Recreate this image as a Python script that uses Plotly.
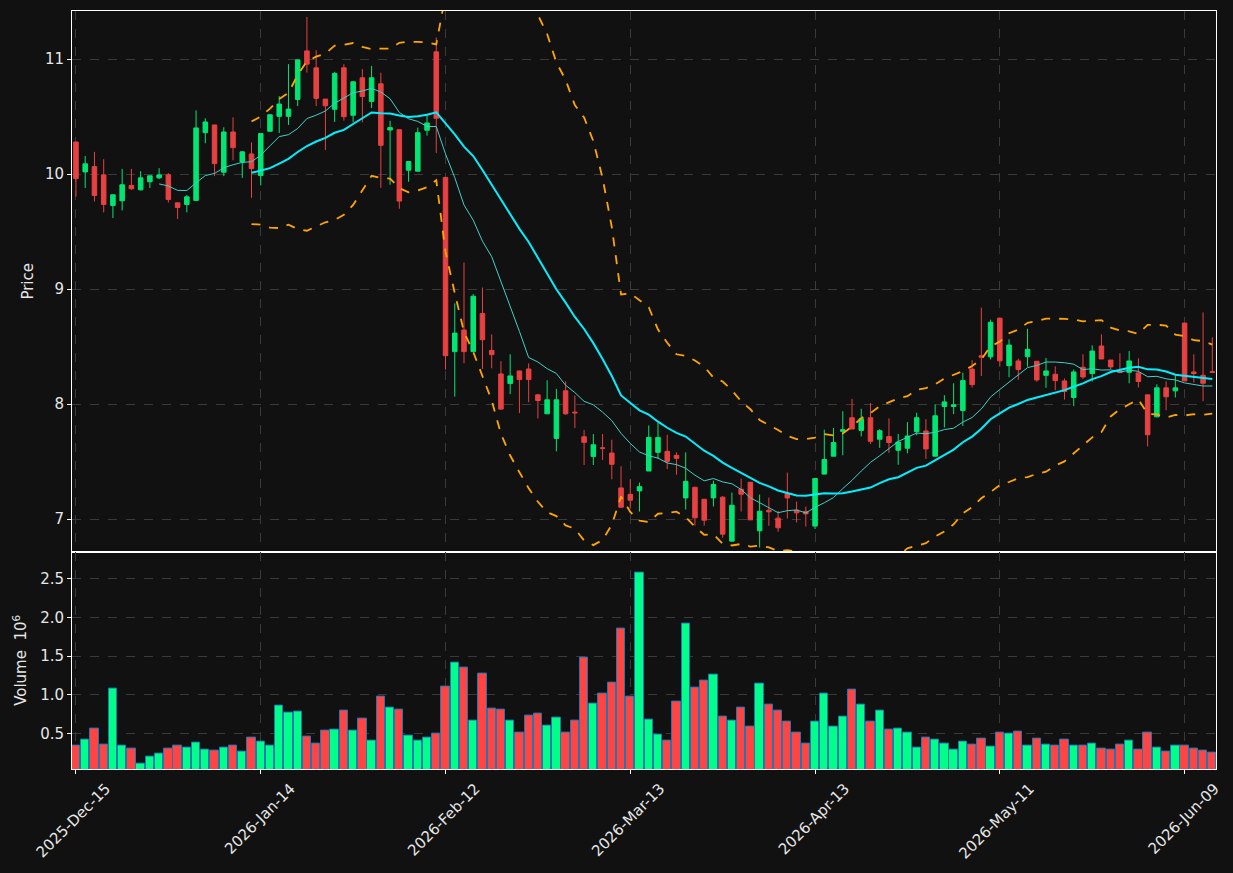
import numpy as np
import pandas as pd
import plotly.graph_objects as go
from plotly.subplots import make_subplots

# ---------------- data ----------------
opens = [10.28, 10.02, 10.066, 9.994, 9.728, 9.769, 9.902, 9.864, 9.934, 9.968,
         9.994, 9.751, 9.737, 9.772, 10.361, 10.428, 10.017, 10.367, 10.107, 10.176,
         9.988, 10.373, 10.503, 10.503, 10.65, 11.072, 10.925, 10.653, 10.564, 10.925,
         10.512, 10.838, 10.633, 10.786, 10.384, 10.387, 10.035, 10.026, 10.382, 11.064,
         9.972, 8.457, 8.645, 8.457, 8.789, 8.468, 8.263, 8.179, 8.289, 8.306,
         8.081, 7.916, 7.702, 8.116, 7.931, 7.717, 7.546, 7.62, 7.575, 7.272,
         7.216, 7.246, 7.419, 7.581, 7.59, 7.555, 7.185, 7.277, 7.173, 7.185,
         7.191, 6.809, 7.26, 7.321, 6.899, 7.078, 7.009, 7.223, 7.078, 7.066,
         6.94, 7.392, 7.548, 7.764, 7.882, 7.772, 7.882, 7.695, 7.718, 7.599,
         7.617, 7.761, 7.767, 7.548, 7.98, 7.98, 7.945, 8.305, 8.421, 8.412,
         8.748, 8.335, 8.376, 8.413, 8.373, 8.251, 8.26, 8.202, 8.058, 8.321,
         8.266, 8.506, 8.384, 8.289, 8.277, 8.272, 8.081, 7.89, 8.142, 8.116,
         8.705, 8.28, 8.251, 8.283]
highs = [10.28, 10.159, 10.194, 10.13, 9.821, 10.046, 10.046, 10.026, 9.986, 10.052,
         10.009, 9.751, 9.82, 10.555, 10.486, 10.428, 10.408, 10.494, 10.202, 10.277,
         10.353, 10.52, 10.679, 10.957, 10.994, 11.367, 11.078, 10.653, 10.89, 10.957,
         10.812, 10.913, 10.942, 10.882, 10.465, 10.387, 10.11, 10.405, 10.523, 11.188,
         9.974, 8.876, 9.231, 8.957, 9.014, 8.607, 8.373, 8.434, 8.289, 8.355,
         8.09, 8.208, 8.133, 8.199, 8.075, 7.775, 7.74, 7.74, 7.691, 7.46,
         7.347, 7.318, 7.815, 7.838, 7.734, 7.581, 7.581, 7.283, 7.173, 7.335,
         7.202, 7.231, 7.353, 7.321, 7.214, 7.188, 7.072, 7.405, 7.153, 7.11,
         7.354, 7.778, 7.793, 7.939, 8.046, 7.96, 8.009, 7.784, 7.876, 7.741,
         7.844, 7.925, 7.87, 8.0, 8.078, 8.182, 8.274, 8.383, 8.839, 8.735,
         8.749, 8.564, 8.396, 8.656, 8.373, 8.402, 8.329, 8.223, 8.301, 8.434,
         8.512, 8.607, 8.384, 8.442, 8.462, 8.399, 8.081, 8.173, 8.199, 8.251,
         8.705, 8.434, 8.798, 8.581]
lows = [9.806, 9.879, 9.763, 9.668, 9.618, 9.685, 9.864, 9.858, 9.879, 9.957,
        9.754, 9.61, 9.668, 9.772, 10.269, 9.983, 9.983, 10.121, 9.968, 9.795,
        9.902, 10.373, 10.358, 10.428, 10.592, 10.884, 10.592, 10.211, 10.454, 10.465,
        10.451, 10.451, 10.575, 9.881, 9.908, 9.699, 9.934, 10.026, 10.335, 10.185,
        8.3, 8.066, 8.355, 8.457, 8.306, 8.312, 7.951, 8.087, 7.922, 8.017,
        7.876, 7.916, 7.59, 7.908, 7.792, 7.471, 7.471, 7.514, 7.347, 7.098,
        7.092, 7.066, 7.419, 7.526, 7.436, 7.387, 7.084, 6.945, 6.945, 7.11,
        6.838, 6.809, 7.066, 6.994, 6.754, 6.942, 6.89, 7.006, 6.971, 6.936,
        6.914, 7.392, 7.548, 7.556, 7.784, 7.72, 7.654, 7.62, 7.576, 7.473,
        7.573, 7.729, 7.524, 7.548, 7.798, 7.914, 7.81, 8.144, 8.245, 8.389,
        8.327, 8.234, 8.211, 8.327, 8.194, 8.142, 8.121, 8.04, 7.983, 8.22,
        8.197, 8.393, 8.306, 8.275, 8.182, 8.145, 7.633, 7.89, 7.948, 8.058,
        8.202, 8.188, 8.026, 8.277]
closes = [9.962, 10.09, 9.815, 9.737, 9.821, 9.908, 9.873, 9.968, 9.986, 9.994,
          9.78, 9.711, 9.803, 10.402, 10.454, 10.092, 10.367, 10.231, 10.194, 10.049,
          10.353, 10.517, 10.61, 10.566, 10.994, 10.957, 10.659, 10.595, 10.876, 10.5,
          10.803, 10.676, 10.838, 10.251, 10.405, 9.766, 10.11, 10.361, 10.445, 10.486,
          8.422, 8.618, 8.457, 8.939, 8.561, 8.431, 7.957, 8.246, 8.214, 8.214,
          8.032, 8.038, 8.038, 7.916, 7.925, 7.668, 7.647, 7.617, 7.477, 7.104,
          7.165, 7.283, 7.711, 7.711, 7.503, 7.529, 7.329, 7.012, 6.991, 7.301,
          6.87, 7.121, 7.217, 6.994, 7.069, 7.064, 6.925, 7.185, 7.055, 7.046,
          7.354, 7.519, 7.666, 7.778, 7.784, 7.873, 7.677, 7.769, 7.666, 7.671,
          7.723, 7.882, 7.611, 7.899, 8.02, 7.995, 8.205, 8.17, 8.409, 8.712,
          8.377, 8.514, 8.301, 8.477, 8.211, 8.289, 8.205, 8.11, 8.28, 8.237,
          8.462, 8.393, 8.324, 8.275, 8.376, 8.197, 7.734, 8.142, 8.064, 8.142,
          8.202, 8.266, 8.182, 8.277]
volumes_m = [0.345, 0.423, 0.565, 0.358, 1.08, 0.345, 0.306, 0.113, 0.203, 0.242,
             0.306, 0.345, 0.319, 0.384, 0.294, 0.281, 0.319, 0.345, 0.268, 0.448,
             0.397, 0.345, 0.861, 0.771, 0.784, 0.461, 0.371, 0.539, 0.552, 0.797,
             0.539, 0.693, 0.41, 0.977, 0.835, 0.81, 0.474, 0.41, 0.448, 0.5,
             1.106, 1.416, 1.351, 0.668, 1.274, 0.822, 0.81, 0.668, 0.513, 0.732,
             0.758, 0.603, 0.706, 0.513, 0.668, 1.48, 0.887, 1.016, 1.158, 1.854,
             0.977, 2.577, 0.681, 0.487, 0.41, 0.913, 1.919, 1.093, 1.184, 1.261,
             0.719, 0.668, 0.835, 0.59, 1.145, 0.874, 0.797, 0.655, 0.513, 0.371,
             0.655, 1.016, 0.59, 0.719, 1.067, 0.874, 0.655, 0.797, 0.552, 0.565,
             0.513, 0.319, 0.448, 0.423, 0.371, 0.294, 0.397, 0.358, 0.436, 0.332,
             0.513, 0.5, 0.526, 0.345, 0.436, 0.358, 0.345, 0.423, 0.345, 0.345,
             0.371, 0.306, 0.294, 0.358, 0.41, 0.294, 0.513, 0.319, 0.268, 0.345,
             0.345, 0.306, 0.281, 0.255]
tick_labels = ["2025-Dec-15", "2026-Jan-14", "2026-Feb-12", "2026-Mar-13",
               "2026-Apr-13", "2026-May-11", "2026-Jun-09"]
tick_bar_index = [0, 20, 40, 60, 80, 100, 120]

# ---------------- indicators (as in the source chart) ----------------
close_s = pd.Series(closes)
ma10 = close_s.rolling(10).mean()
ma20 = close_s.rolling(20).mean()
sd20 = close_s.rolling(20).std()
bb_up = ma20 + 2 * sd20
bb_lo = ma20 - 2 * sd20

x = list(range(len(closes)))

UP = "#00e673"
DOWN = "#e84141"
VUP = "#00ff88"
VDOWN = "#ff4444"
BG = "#111111"
GRID = "#3a3a3a"
TXT = "#e6e6e6"
FS = 15

fig = make_subplots(rows=2, cols=1, shared_xaxes=True, vertical_spacing=0,
                    row_heights=[0.7132, 0.2868])

fig.add_trace(go.Candlestick(
    x=x, open=opens, high=highs, low=lows, close=closes,
    increasing=dict(line=dict(color=UP, width=1), fillcolor=UP),
    decreasing=dict(line=dict(color=DOWN, width=1), fillcolor=DOWN),
    whiskerwidth=0, showlegend=False, hoverinfo="skip"), row=1, col=1)

fig.add_trace(go.Scatter(x=x, y=bb_up, mode="lines",
                         line=dict(color="#ffa500", width=1.8, dash="dash"),
                         showlegend=False, hoverinfo="skip"), row=1, col=1)
fig.add_trace(go.Scatter(x=x, y=bb_lo, mode="lines",
                         line=dict(color="#ffa500", width=1.8, dash="dash"),
                         showlegend=False, hoverinfo="skip"), row=1, col=1)
fig.add_trace(go.Scatter(x=x, y=ma10, mode="lines",
                         line=dict(color="#40d0c8", width=1),
                         showlegend=False, hoverinfo="skip"), row=1, col=1)
fig.add_trace(go.Scatter(x=x, y=ma20, mode="lines",
                         line=dict(color="#00f0ff", width=2),
                         showlegend=False, hoverinfo="skip"), row=1, col=1)

vcolors = [VUP if c >= o else VDOWN for o, c in zip(opens, closes)]
fig.add_trace(go.Bar(x=x, y=volumes_m, marker=dict(color=vcolors,
                     line=dict(color="#1f77b4", width=1)),
                     width=0.9, showlegend=False, hoverinfo="skip"), row=2, col=1)

axis_common = dict(showline=True, linecolor="white", linewidth=1, mirror=True,
                   gridcolor=GRID, griddash="dash", gridwidth=1,
                   ticks="outside", tickcolor="white", ticklen=4,
                   tickfont=dict(family="DejaVu Sans", size=FS, color=TXT),
                   zeroline=False)

xr = [-0.43, 123.4]
fig.update_xaxes(**axis_common, range=xr, tickmode="array",
                 tickvals=tick_bar_index, ticktext=tick_labels,
                 rangeslider=dict(visible=False))
fig.update_xaxes(showticklabels=False, row=1, col=1)
fig.update_xaxes(showticklabels=True, tickangle=-45, ticklabelshift=30,
                 row=2, col=1)

fig.update_yaxes(**axis_common)
fig.update_yaxes(range=[6.718, 11.419], tickvals=[7, 8, 9, 10, 11],
                 title=dict(text="Price", font=dict(family="DejaVu Sans", size=FS, color=TXT),
                            standoff=7),
                 row=1, col=1)
fig.update_yaxes(range=[0.039, 2.852], tickvals=[0.5, 1.0, 1.5, 2.0, 2.5],
                 ticktext=["0.5", "1.0", "1.5", "2.0", "2.5"],
                 title=dict(text="Volume  10<sup>6</sup>",
                            font=dict(family="DejaVu Sans", size=FS, color=TXT),
                            standoff=9),
                 row=2, col=1)

fig.update_layout(width=1233, height=873, paper_bgcolor=BG, plot_bgcolor=BG,
                  margin=dict(l=72, r=16, t=10, b=103), bargap=0,
                  font=dict(family="DejaVu Sans", color=TXT))

fig.write_html("out.html")
